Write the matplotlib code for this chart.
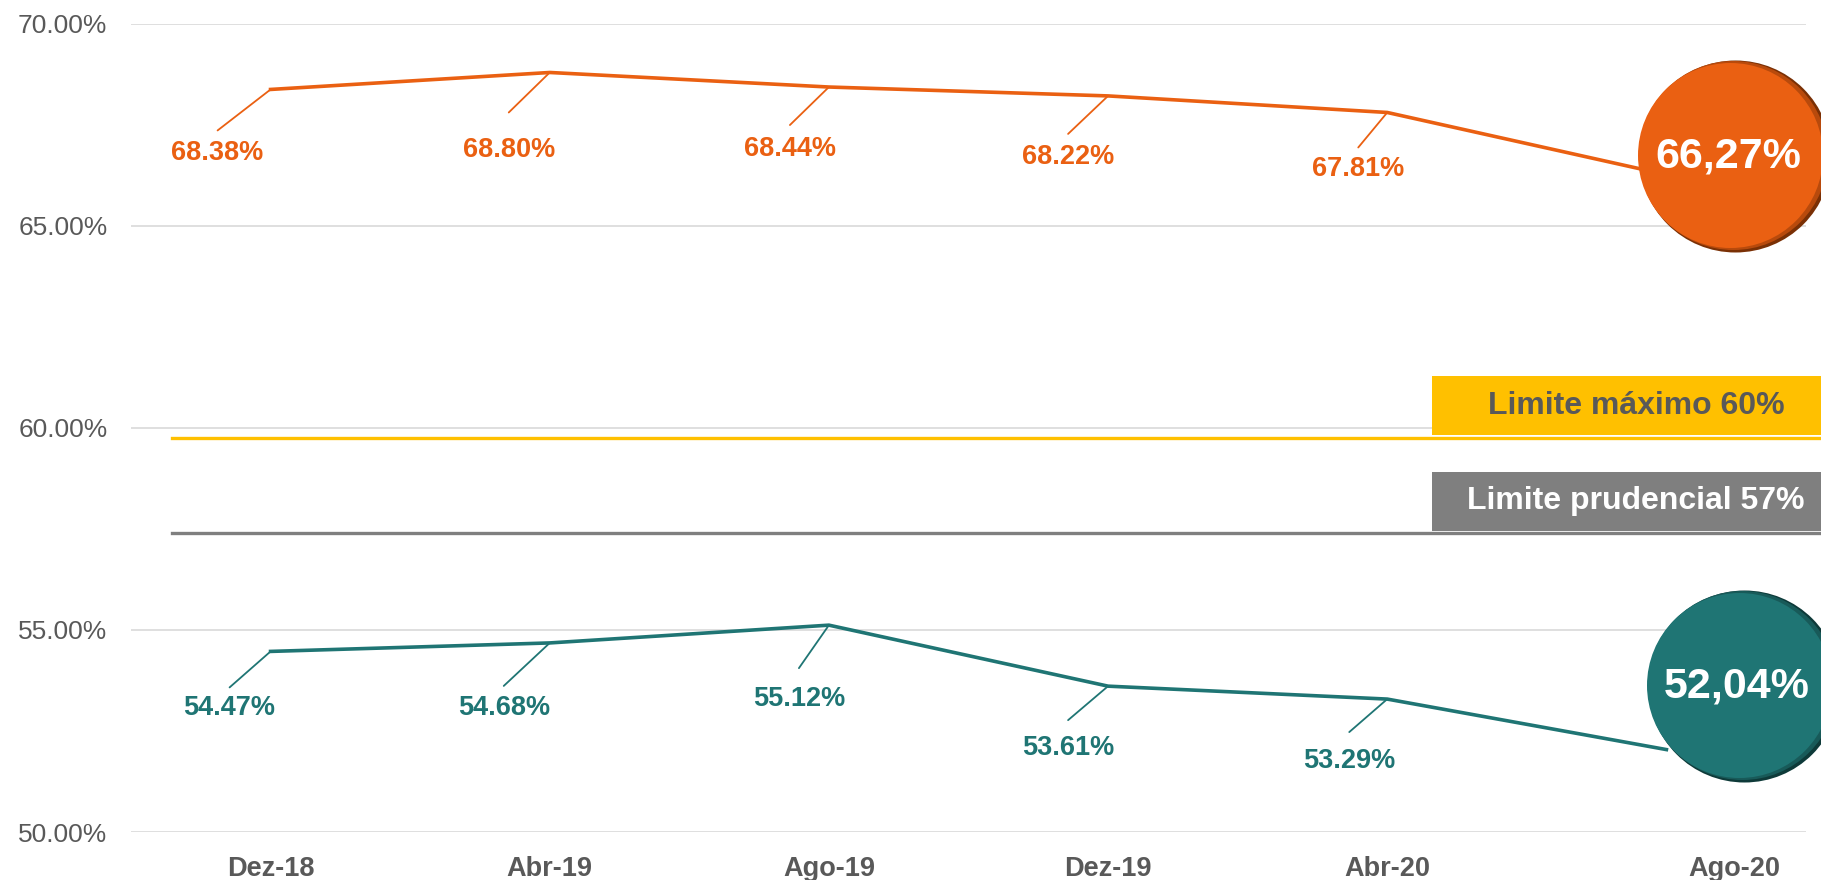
import matplotlib
matplotlib.use("Agg")
import matplotlib.pyplot as plt
from matplotlib.patches import Rectangle

plt.rcParams['font.family'] = ['Liberation Sans', 'DejaVu Sans']

# data
periods = ['Dez-18', 'Abr-19', 'Ago-19', 'Dez-19', 'Abr-20', 'Ago-20']
despesa_total = [68.38, 68.80, 68.44, 68.22, 67.81, 66.27]
despesa_pessoal = [54.47, 54.68, 55.12, 53.61, 53.29, 52.04]
limite_maximo = 59.76
limite_prudencial = 57.41

ORANGE = '#EA6012'
TEAL = '#1F7574'
YELLOW = '#FFC000'
GREY = '#7F7F7F'
TXT = '#595959'

W, H = 1821, 880
fig = plt.figure(figsize=(W / 100, H / 100), dpi=100)
fig.set_facecolor('white')
# axes placed in pixels: left 131, right 1806, top 24, bottom 832
ax = fig.add_axes([131 / W, (H - 832) / H, (1806 - 131) / W, (832 - 24) / H])

x = list(range(len(periods)))
ax.set_xlim(-0.5, len(periods) - 0.5)
ax.set_ylim(50, 70)
ax.set_yticks([50, 55, 60, 65, 70])
ax.set_yticklabels([f'{v:.2f}%' for v in [50, 55, 60, 65, 70]])
ax.yaxis.grid(True, color='#D9D9D9', linewidth=1.2)
ax.set_axisbelow(True)
for s in ax.spines.values():
    s.set_visible(False)
ax.tick_params(axis='y', length=0, pad=17, labelsize=19, labelcolor=TXT)
ax.tick_params(axis='x', length=0, pad=17, labelsize=19.5, labelcolor=TXT)

# last category label sits under the bubble, a bit to the right
xt = x[:-1] + [5.245]
ax.set_xticks(xt)
ax.set_xticklabels(periods)
for t in ax.get_xticklabels():
    t.set_fontweight('bold')

# limit lines
ax.plot([-0.353, 5.6], [limite_maximo] * 2, color=YELLOW, lw=2.4, clip_on=False, zorder=2)
ax.plot([-0.353, 5.6], [limite_prudencial] * 2, color=GREY, lw=2.4, clip_on=False, zorder=2)

# series
ax.plot(x, despesa_total, color=ORANGE, lw=2.6, zorder=3)
ax.plot(x, despesa_pessoal, color=TEAL, lw=2.6, zorder=3)

# data labels with leader lines (offsets in pixels)
orange_off = [(-53, -64, -41), (-41, -78, -40), (-39, -62, -38), (-40, -61, -38), (-29, -57, -35)]
teal_off = [(-41, -57, -36), (-46, -65, -43), (-30, -74, -43), (-40, -62, -34), (-38, -62, -33)]

def labels(values, offs, color):
    for i, (v, (dx, dy, ly)) in enumerate(zip(values[:-1], offs)):
        ax.annotate('', xy=(i, v), xytext=(dx, ly), textcoords='offset pixels',
                    arrowprops=dict(arrowstyle='-', color=color, lw=1.3,
                                    shrinkA=0, shrinkB=0))
        ax.annotate(f'{v:.2f}%', xy=(i, v), xytext=(dx, dy), textcoords='offset pixels',
                    ha='center', va='center', fontsize=19.5, fontweight='bold',
                    color=color)

labels(despesa_total, orange_off, ORANGE)
labels(despesa_pessoal, teal_off, TEAL)

# bubbles with last values, darker rim on the right for the shaded look
def bubble(cx, cy, value, color, mid, dark):
    ax.scatter([cx], [cy], s=(192 * 0.72) ** 2, color=dark, clip_on=False, zorder=5, linewidths=0)
    ax.scatter([cx - 0.008], [cy + 0.02], s=(189 * 0.72) ** 2, color=mid,
               clip_on=False, zorder=6, linewidths=0)
    ax.scatter([cx - 0.016], [cy + 0.03], s=(185 * 0.72) ** 2, color=color,
               clip_on=False, zorder=6, linewidths=0)
    ax.text(cx - 0.025, cy, f'{value:.2f}%'.replace('.', ','), ha='center', va='center',
            fontsize=31, fontweight='bold', color='white', zorder=7)

bubble(5.245, 66.73, despesa_total[-1], ORANGE, '#B84A0C', '#7A3005')
bubble(5.277, 53.61, despesa_pessoal[-1], TEAL, '#185A59', '#0E3A39')

# limit boxes (figure pixels)
def box(y_top, y_bot, color, text, tcolor):
    fig.add_artist(Rectangle((1432 / W, (H - y_bot) / H), (W - 1432) / W, (y_bot - y_top) / H,
                             transform=fig.transFigure, facecolor=color, edgecolor='none'))
    fig.text(1636 / W, (H - (y_top + y_bot) / 2) / H, text, ha='center', va='center',
             fontsize=23, fontweight='bold', color=tcolor)

box(376, 435, YELLOW, 'Limite máximo 60%', TXT)
box(472, 531, GREY, 'Limite prudencial 57%', 'white')

fig.savefig('out.png', dpi=100, facecolor='white')
